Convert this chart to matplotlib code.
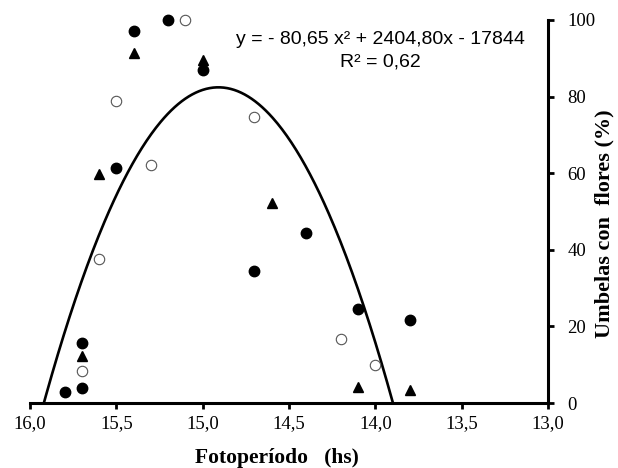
import numpy as np
import matplotlib
matplotlib.use("Agg")
import matplotlib.pyplot as plt

# Data (photoperiod in hs, umbels with flowers in %)
filled_x = [15.8, 15.7, 15.7, 15.4, 15.2, 15.0, 15.5, 14.7, 14.4, 14.1, 13.8]
filled_y = [3.0, 4.0, 15.6, 97.0, 100.0, 87.0, 61.3, 34.5, 44.3, 24.5, 21.8]

open_x = [15.1, 15.5, 15.3, 14.7, 15.6, 15.7, 14.2, 14.0]
open_y = [100.0, 78.8, 62.1, 74.8, 37.6, 8.4, 16.8, 9.9]

tri_x = [15.4, 15.0, 15.6, 14.6, 15.7, 14.1, 13.8]
tri_y = [91.3, 89.5, 59.7, 52.1, 12.4, 4.3, 3.4]

# quadratic fit coefficients
coef = [-80.65, 2404.80, -17844]
xticks = [16.0, 15.5, 15.0, 14.5, 14.0, 13.5, 13.0]
yticks = [0, 20, 40, 60, 80, 100]

fig = plt.figure(figsize=(6.18, 4.68), dpi=100)
ax = fig.add_axes([30 / 618, 1 - 403 / 468, 518 / 618, 383 / 468])

# fitted curve, only where it is above zero
roots = np.sort(np.roots(coef).real)
xf = np.linspace(roots[0], roots[1], 300)
ax.plot(xf, np.polyval(coef, xf), color="black", lw=1.9, zorder=2)

ax.plot(filled_x, filled_y, "o", color="black", ms=7.5, clip_on=False, zorder=3)
ax.plot(open_x, open_y, "o", mfc="white", mec="#555555", mew=0.8, ms=7.5,
        clip_on=False, zorder=3)
ax.plot(tri_x, tri_y, "^", color="black", ms=7.5, clip_on=False, zorder=3)

ax.set_xlim(16.0, 13.0)
ax.set_ylim(0, 100)

for s in ["left", "top"]:
    ax.spines[s].set_visible(False)
for s in ["right", "bottom"]:
    ax.spines[s].set_linewidth(2.2)

ax.yaxis.tick_right()
ax.yaxis.set_label_position("right")
ax.set_xticks(xticks)
ax.set_xticklabels([f"{v:.1f}".replace(".", ",") for v in xticks])
ax.set_yticks(yticks)
ax.tick_params(direction="out", length=4, width=2, labelsize=13.5)
ax.tick_params(axis="y", pad=10)
ax.tick_params(axis="x", pad=5)
for lab in ax.get_xticklabels() + ax.get_yticklabels():
    lab.set_family("Liberation Serif")

ax.set_xlabel("Fotoperíodo   (hs)", family="Liberation Serif", fontweight="bold",
              fontsize=15.5)
ax.set_ylabel("Umbelas con  flores (%)", family="Liberation Serif",
              fontweight="bold", fontsize=16, rotation=90, va="center")
ax.xaxis.set_label_coords(0.476, -0.117)
ax.yaxis.set_label_coords(1.11, 0.469)

ax.text(380 / 618, 1 - 40 / 468, "y = - 80,65 x² + 2404,80x - 17844",
        transform=fig.transFigure, ha="center", va="center",
        family="Liberation Sans", fontsize=14)
ax.text(380 / 618, 1 - 62 / 468, "R² = 0,62", transform=fig.transFigure,
        ha="center", va="center", family="Liberation Sans", fontsize=14)

fig.savefig("out.png", dpi=100)
